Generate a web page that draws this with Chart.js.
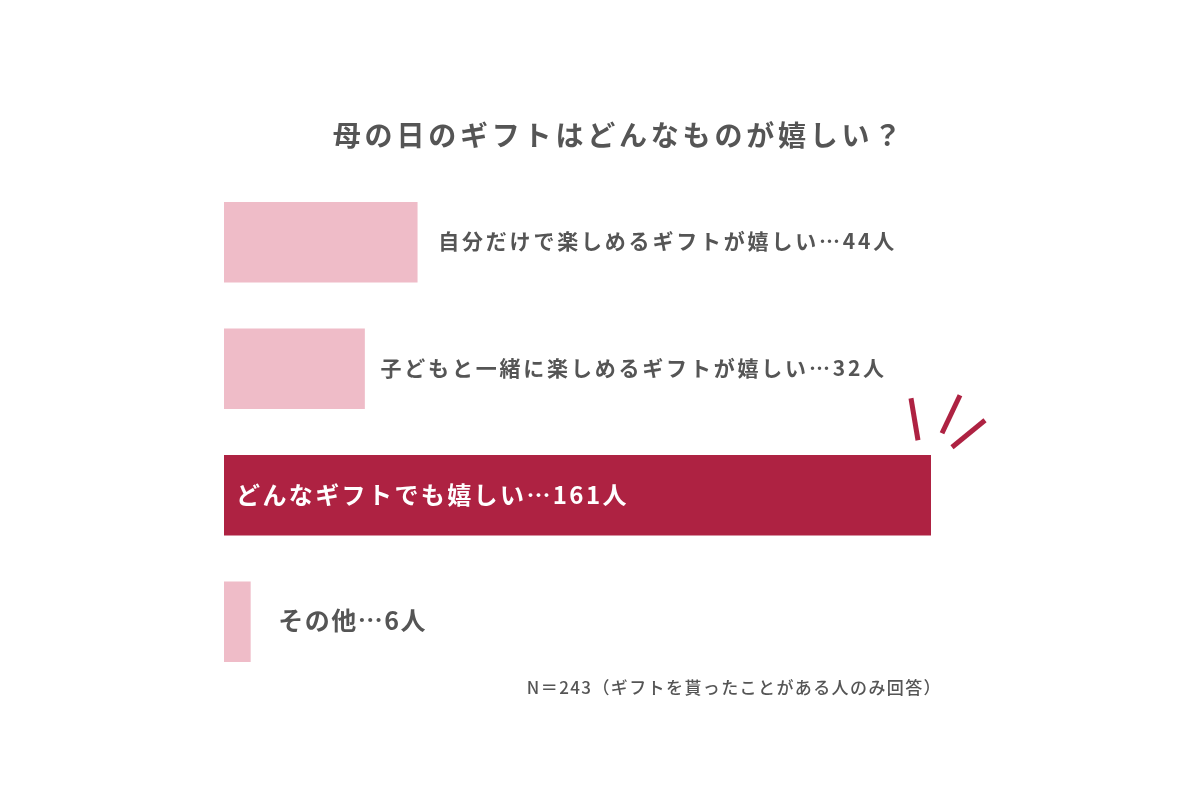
<!DOCTYPE html>
<html lang="ja">
<head>
<meta charset="utf-8">
<script src="https://cdn.jsdelivr.net/npm/chart.js@4.4.1/dist/chart.umd.min.js"></script>
<style>
  html, body { margin: 0; padding: 0; background: #fff; }
  #wrap { width: 1200px; height: 800px; }
</style>
</head>
<body>
<div id="wrap"><canvas id="giftChart" width="1200" height="800"></canvas></div>
<script>
// data
const categories = ['自分だけで楽しめるギフトが嬉しい', '子どもと一緒に楽しめるギフトが嬉しい', 'どんなギフトでも嬉しい', 'その他'];
const counts = [44, 32, 161, 6];
const titleText = '母の日のギフトはどんなものが嬉しい？';
const noteText = 'N＝243（ギフトを貰ったことがある人のみ回答）';

const pink = '#efbcc8';
const crimson = '#ae2242';
const gray = '#555555';
const fontFamily = '"Noto Sans CJK JP", "Noto Sans", sans-serif';

// label + title + decoration drawing
const labelPlugin = {
    id: 'labelPlugin',
    afterDatasetsDraw(chart) {
        const ctx = chart.ctx;
        const meta = chart.getDatasetMeta(0);
        const gaps = [21, 16, 0, 28];
        const sizes = [21, 21, 24, 25];
        const spacing = [2.8, 2.8, 2.4, 1.5];
        const top = Math.max(...counts);
        ctx.save();
        ctx.textBaseline = 'middle';
        ctx.textAlign = 'left';
        meta.data.forEach((bar, i) => {
            const text = categories[i] + '…' + counts[i] + '人';
            ctx.font = 'bold ' + sizes[i] + 'px ' + fontFamily;
            ctx.letterSpacing = spacing[i] + 'px';
            if (counts[i] === top) {
                ctx.fillStyle = '#ffffff';
                ctx.fillText(text, bar.base + 12, bar.y);
            } else {
                ctx.fillStyle = gray;
                ctx.fillText(text, bar.x + gaps[i], bar.y - 1);
            }
        });

        // title
        ctx.textAlign = 'center';
        ctx.fillStyle = gray;
        ctx.font = 'bold 28px ' + fontFamily;
        ctx.letterSpacing = '3.8px';
        ctx.fillText(titleText, 619, 135);

        // note
        ctx.textAlign = 'right';
        ctx.font = '500 17px ' + fontFamily;
        ctx.letterSpacing = '1.4px';
        ctx.fillText(noteText, 942, 688);

        // sparkle strokes next to the big bar
        const big = meta.data[2];
        const ox = big.x, oy = big.y - big.height / 2;
        ctx.strokeStyle = crimson;
        ctx.lineWidth = 5;
        ctx.lineCap = 'butt';
        [[-20, -57, -13, -15], [29, -60, 11, -22], [54, -35, 21, -8]].forEach(s => {
            ctx.beginPath();
            ctx.moveTo(ox + s[0], oy + s[1]);
            ctx.lineTo(ox + s[2], oy + s[3]);
            ctx.stroke();
        });
        ctx.restore();
    }
};

let ctx = document.getElementById('giftChart').getContext('2d');

let giftChart = new Chart(ctx, {
    type: 'bar',
    data: {
        labels: categories,
        datasets: [{
            data: counts,
            backgroundColor: counts.map(v => v === Math.max(...counts) ? crimson : pink),
            barThickness: 80,
            borderWidth: 0
        }]
    },
    options: {
        indexAxis: 'y',
        responsive: false,
        animation: false,
        layout: {
            padding: { left: 224, right: 269, top: 179, bottom: 115 }
        },
        scales: {
            x: { display: false, min: 0, max: 161 },
            y: { display: false }
        },
        plugins: {
            legend: { display: false },
            tooltip: { enabled: false }
        }
    },
    plugins: [labelPlugin]
});
</script>
</body>
</html>
